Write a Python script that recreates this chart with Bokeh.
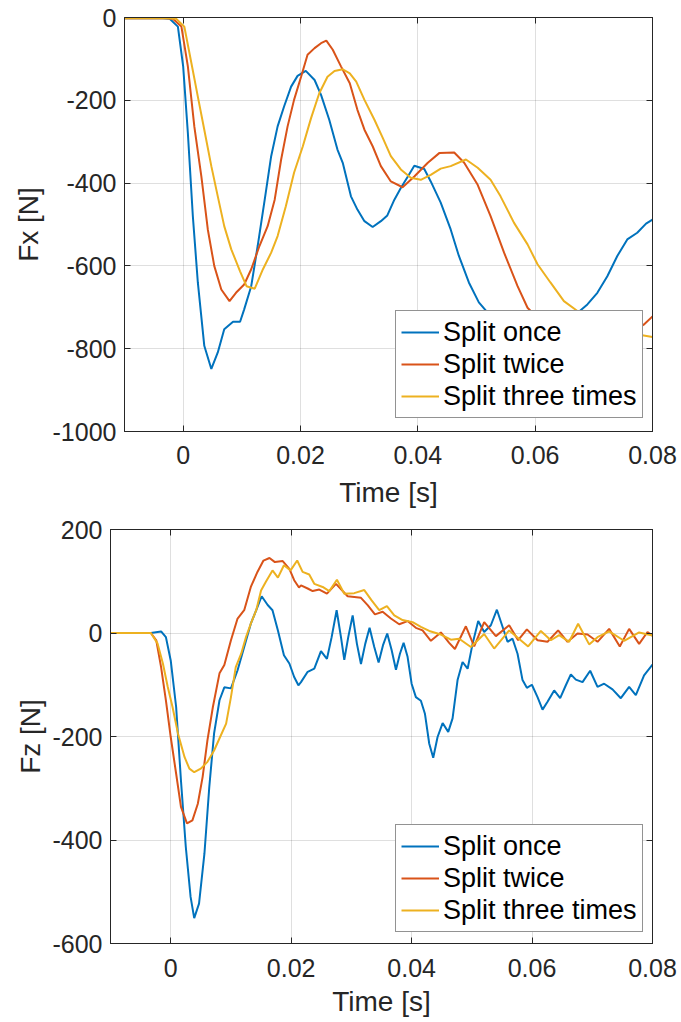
from bokeh.plotting import figure
from bokeh.models import Range1d, FixedTicker, LinearAxis, CustomJSTickFormatter
from bokeh.embed import file_html
from bokeh.resources import INLINE

# ---------------- data ----------------
series_names = ["Split once", "Split twice", "Split three times"]
series_colors = ["#0072BD", "#D95319", "#EDB120"]

x_ticks = [0, 0.02, 0.04, 0.06, 0.08]
x_tick_labels = ["0", "0.02", "0.04", "0.06", "0.08"]
fx_ticks = [-1000, -800, -600, -400, -200, 0]
fx_tick_labels = ["-1000", "-800", "-600", "-400", "-200", "0"]
fz_ticks = [-600, -400, -200, 0, 200]
fz_tick_labels = ["-600", "-400", "-200", "0", "200"]

# Fx, split once
t_fx_once = [-0.01, -0.0035, -0.0023, -0.0009, 0.0, 0.0008, 0.00165, 0.0025, 0.0036, 0.0048, 0.0059,
             0.0070, 0.0085, 0.0097, 0.0104, 0.0116, 0.0127, 0.0139, 0.015, 0.0161, 0.0172, 0.0184,
             0.0195, 0.0209, 0.0224, 0.0235, 0.0249, 0.0263, 0.0272, 0.0286, 0.0297, 0.0309, 0.0323,
             0.0337, 0.0348, 0.036, 0.0371, 0.0383, 0.0394, 0.0411, 0.0422, 0.0439, 0.0456, 0.047,
             0.0487, 0.0504, 0.0519, 0.0535, 0.055, 0.0575, 0.06, 0.062, 0.065, 0.0675, 0.0689,
             0.0706, 0.0723, 0.074, 0.0757, 0.0774, 0.0789, 0.08]
fx_once = [-2, -2, -3, -22, -118, -279, -480, -640, -793, -849, -809,
           -753, -735, -735, -705, -649, -552, -440, -335, -263, -215, -167,
           -141, -129, -151, -187, -247, -319, -351, -432, -464, -492, -506,
           -492, -478, -440, -412, -384, -358, -366, -396, -447, -512, -576,
           -640, -688, -713, -722, -725, -718, -710, -716, -718, -710, -693,
           -665, -625, -576, -536, -520, -498, -488]

# Fx, split twice
t_fx_twice = [-0.01, -0.003, -0.00175, -0.0003, 0.0008, 0.0019, 0.0031, 0.0042, 0.0053, 0.0065, 0.0079,
              0.009, 0.0104, 0.0116, 0.013, 0.0144, 0.0156, 0.0167, 0.0178, 0.0189, 0.0201, 0.0212,
              0.0224, 0.0235, 0.0244, 0.0255, 0.0269, 0.0284, 0.0297, 0.0309, 0.0323, 0.0337, 0.0354,
              0.0374, 0.0394, 0.0417, 0.0437, 0.0462, 0.0479, 0.0502, 0.0524, 0.0547, 0.057, 0.0587,
              0.061, 0.064, 0.067, 0.071, 0.074, 0.077, 0.0785, 0.08]
fx_twice = [-2, -2, -3, -22, -118, -263, -384, -512, -600, -657, -685,
            -665, -645, -608, -552, -504, -440, -343, -263, -199, -143, -90,
            -74, -62, -56, -78, -118, -159, -223, -271, -311, -359, -396,
            -410, -384, -351, -327, -326, -351, -404, -480, -568, -649, -701,
            -735, -752, -762, -768, -765, -755, -742, -722]

# Fx, split three times
t_fx_three = [-0.01, -0.0025, -0.0012, 0.0002, 0.0014, 0.0025, 0.0036, 0.0048, 0.0059, 0.007, 0.0082,
              0.0097, 0.0108, 0.0122, 0.0136, 0.015, 0.0161, 0.0175, 0.0189, 0.0204, 0.0218, 0.0232,
              0.0246, 0.0258, 0.0272, 0.0284, 0.0295, 0.0309, 0.0326, 0.034, 0.0354, 0.0371, 0.0388,
              0.0405, 0.0422, 0.0439, 0.0456, 0.0482, 0.0502, 0.0524, 0.0541, 0.0564, 0.0587, 0.0604,
              0.0626, 0.0649, 0.0672, 0.07, 0.074, 0.078, 0.08]
fx_three = [-2, -2, -3, -22, -110, -191, -271, -359, -432, -504, -560,
            -613, -649, -655, -608, -568, -528, -456, -375, -311, -243, -183,
            -143, -129, -125, -135, -155, -199, -247, -290, -335, -367, -387,
            -392, -380, -365, -359, -343, -363, -392, -432, -496, -548, -596,
            -640, -685, -709, -730, -752, -767, -772]

# Fz, split once
t_fz_once = [-0.01, -0.0033, -0.0016, -0.0008, 0.0, 0.0009, 0.0017, 0.0025, 0.0033, 0.0039, 0.0047,
             0.0056, 0.0064, 0.0072, 0.0081, 0.0089, 0.01, 0.0111, 0.0122, 0.0133, 0.0142, 0.0151,
             0.0161, 0.0169, 0.0178, 0.0188, 0.0197, 0.0205, 0.0212, 0.02163, 0.02274, 0.02384,
             0.02495, 0.02594, 0.02672, 0.02755, 0.02827, 0.02882, 0.02948, 0.03021, 0.03092,
             0.03159, 0.0323, 0.03302, 0.0338, 0.03452, 0.03524, 0.03595, 0.03668, 0.0374, 0.03806,
             0.03867, 0.03933, 0.04, 0.04071, 0.04154, 0.04221, 0.04293, 0.04359, 0.04431, 0.04515,
             0.04608, 0.0468, 0.04763, 0.04846, 0.0493, 0.05012, 0.05106, 0.05205, 0.05316, 0.05416,
             0.0551, 0.05593, 0.05676, 0.05759, 0.05842, 0.05914, 0.05997, 0.06091, 0.06174, 0.06257,
             0.06367, 0.06467, 0.06561, 0.06644, 0.06727, 0.06838, 0.06965, 0.07087, 0.07197,
             0.07336, 0.07474, 0.07612, 0.07723, 0.0786, 0.08]
fz_once = [0, 0, 3, -8, -53, -143, -285, -413, -510, -551, -523,
           -426, -298, -194, -130, -105, -107, -72, -27, 18, 44, 71,
           54, 44, 5, -43, -59, -85, -101, -95, -75, -69,
           -35, -50, -8, 44, -8, -52, -8, 34, -21,
           -60, -21, 10, -27, -57, -24, -1, -33, -71, -40,
           -19, -46, -98, -124, -131, -156, -214, -241, -201, -174,
           -191, -165, -91, -56, -69, -21, 23, 2, 15, 45,
           12, -17, -11, -40, -91, -106, -100, -124, -148, -133,
           -111, -126, -101, -80, -90, -95, -73, -104, -98,
           -109, -126, -104, -120, -82, -61]

# Fz, split twice
t_fz_twice = [-0.01, -0.0033, -0.0024, -0.0016, -0.0008, 0.0, 0.0009, 0.0017, 0.0027, 0.0036, 0.0045,
              0.0053, 0.0061, 0.007, 0.0081, 0.0089, 0.01, 0.0111, 0.0122, 0.0133, 0.0144, 0.0154,
              0.0164, 0.0173, 0.0186, 0.0197, 0.0205, 0.0213, 0.02163, 0.02274, 0.02357, 0.02467,
              0.02594, 0.02744, 0.02938, 0.03159, 0.0327, 0.03391, 0.03519, 0.03656, 0.03794,
              0.03933, 0.04071, 0.04182, 0.0432, 0.04486, 0.04624, 0.04719, 0.04901, 0.05039,
              0.05205, 0.05399, 0.0562, 0.05769, 0.05914, 0.06091, 0.06257, 0.06433, 0.06589,
              0.06755, 0.06921, 0.07087, 0.0728, 0.07457, 0.07612, 0.07778, 0.07917, 0.08]
fz_twice = [0, 0, -14, -66, -130, -201, -272, -336, -368, -362, -330,
            -278, -207, -143, -78, -62, -14, 28, 44, 89, 118, 140,
            145, 137, 139, 124, 102, 88, 92, 86, 81, 84,
            76, 95, 71, 68, 54, 36, 41, 28, 17,
            23, 10, 5, -15, 1, -19, -31, 13, -26,
            21, -6, 15, -14, 7, -14, -17, 5, -17,
            -1, -3, -17, 8, -26, 8, -21, 2, -5]

# Fz, split three times
t_fz_three = [-0.01, -0.0033, -0.0022, -0.0013, -0.0005, 0.0003, 0.0012, 0.0023, 0.0031, 0.0039, 0.005,
              0.0061, 0.0072, 0.0082, 0.0092, 0.01, 0.0108, 0.0117, 0.0125, 0.0133, 0.0142, 0.015,
              0.0158, 0.0169, 0.0178, 0.0188, 0.0199, 0.021, 0.0219, 0.023, 0.02384, 0.02523,
              0.02633, 0.0276, 0.02882, 0.03048, 0.03214, 0.03336, 0.03462, 0.0359, 0.03712,
              0.0385, 0.04017, 0.04154, 0.04293, 0.04486, 0.04652, 0.0479, 0.04984, 0.05205,
              0.05371, 0.0562, 0.05935, 0.06146, 0.06312, 0.0645, 0.06616, 0.06765, 0.06948,
              0.07087, 0.0728, 0.07529, 0.07778, 0.08]
fz_three = [0, 0, -20, -59, -104, -143, -194, -240, -262, -269, -262,
            -249, -227, -201, -175, -124, -66, -40, -8, 18, 44, 82,
            99, 121, 107, 131, 121, 140, 118, 113, 95, 89,
            81, 103, 76, 77, 83, 63, 44, 52, 34,
            25, 21, 12, 4, -3, -13, -11, -27, -2,
            -30, 5, -26, 4, -14, -4, -17, 18, -22,
            -8, 3, -15, 1, -5]

FONT = "Liberation Sans"
AX = "#262626"


def tick_fmt(tv, tl):
    return CustomJSTickFormatter(args=dict(tv=tv, tl=tl), code="""
        for (let i = 0; i < tv.length; i++) {
            if (Math.abs(tv[i] - tick) < 1e-9) { return tl[i]; }
        }
        return '';
    """)


def blank_fmt():
    return CustomJSTickFormatter(code="return '';")


def style_axis(ax, font_size="25px"):
    ax.axis_line_color = AX
    ax.major_tick_line_color = AX
    ax.major_tick_in = 6
    ax.major_tick_out = 0
    ax.minor_tick_line_color = None
    ax.major_label_text_font = FONT
    ax.major_label_text_font_size = font_size
    ax.major_label_text_color = AX
    ax.axis_label_text_font = FONT
    ax.axis_label_text_font_size = "28px"
    ax.axis_label_text_font_style = "normal"
    ax.axis_label_text_color = AX


def make_plot(series, yticks, ylabels, yr, ylabel, height, borders, xstand, ystand, legend_loc):
    top, bottom, left, right = borders
    p = figure(width=681, height=height, output_backend="svg", toolbar_location=None,
               x_range=Range1d(-0.01, 0.08), y_range=Range1d(*yr),
               min_border_top=top, min_border_bottom=bottom,
               min_border_left=left, min_border_right=right)
    p.background_fill_color = "white"
    p.outline_line_color = AX
    p.outline_line_alpha = 1.0

    for (tt, vv), name, col in zip(series, series_names, series_colors):
        p.line(tt, vv, color=col, line_width=2, legend_label=name)

    xa = p.xaxis[0]
    xa.ticker = FixedTicker(ticks=x_ticks)
    xa.formatter = tick_fmt(x_ticks, x_tick_labels)
    style_axis(xa)
    xa.axis_label = "Time [s]"
    xa.major_label_standoff = xstand[0]
    xa.axis_label_standoff = xstand[1]

    ya = p.yaxis[0]
    ya.ticker = FixedTicker(ticks=yticks)
    ya.formatter = tick_fmt(yticks, ylabels)
    style_axis(ya)
    ya.axis_label = ylabel
    ya.major_label_standoff = ystand[0]
    ya.axis_label_standoff = ystand[1]

    # box ticks on the top and right
    ra = LinearAxis(ticker=FixedTicker(ticks=yticks), formatter=blank_fmt())
    style_axis(ra, "0px")
    ra.major_label_standoff = 0
    p.add_layout(ra, "right")
    ta = LinearAxis(ticker=FixedTicker(ticks=x_ticks), formatter=blank_fmt())
    style_axis(ta, "0px")
    ta.major_label_standoff = 0
    p.add_layout(ta, "above")

    p.xgrid.ticker = FixedTicker(ticks=x_ticks)
    p.ygrid.ticker = FixedTicker(ticks=yticks)
    for g in (p.xgrid[0], p.ygrid[0]):
        g.grid_line_color = AX
        g.grid_line_alpha = 0.15
        g.grid_line_width = 1

    lg = p.legend[0]
    lg.location = legend_loc
    lg.label_text_font = FONT
    lg.label_text_font_size = "27px"
    lg.label_text_color = "black"
    lg.label_height = 32
    lg.glyph_height = 32
    lg.glyph_width = 38
    lg.label_standoff = 4
    lg.padding = 5
    lg.spacing = 0
    lg.margin = 0
    lg.border_line_color = AX
    lg.border_line_width = 1
    lg.background_fill_color = "white"
    lg.background_fill_alpha = 1.0
    return p


p1 = make_plot([(t_fx_once, fx_once), (t_fx_twice, fx_twice), (t_fx_three, fx_three)],
               fx_ticks, fx_tick_labels, (-1000, 0), "Fx [N]", 514, (17, 83, 124, 29),
               (14, 10), (8, 6), (271, 13))
p2 = make_plot([(t_fz_once, fz_once), (t_fz_twice, fz_twice), (t_fz_three, fz_three)],
               fz_ticks, fz_tick_labels, (-600, 200), "Fz [N]", 508, (15, 79, 110, 29),
               (15, 6), (8, 3), (285, 11))

open("out.html", "w").write(file_html([p1, p2], INLINE))
